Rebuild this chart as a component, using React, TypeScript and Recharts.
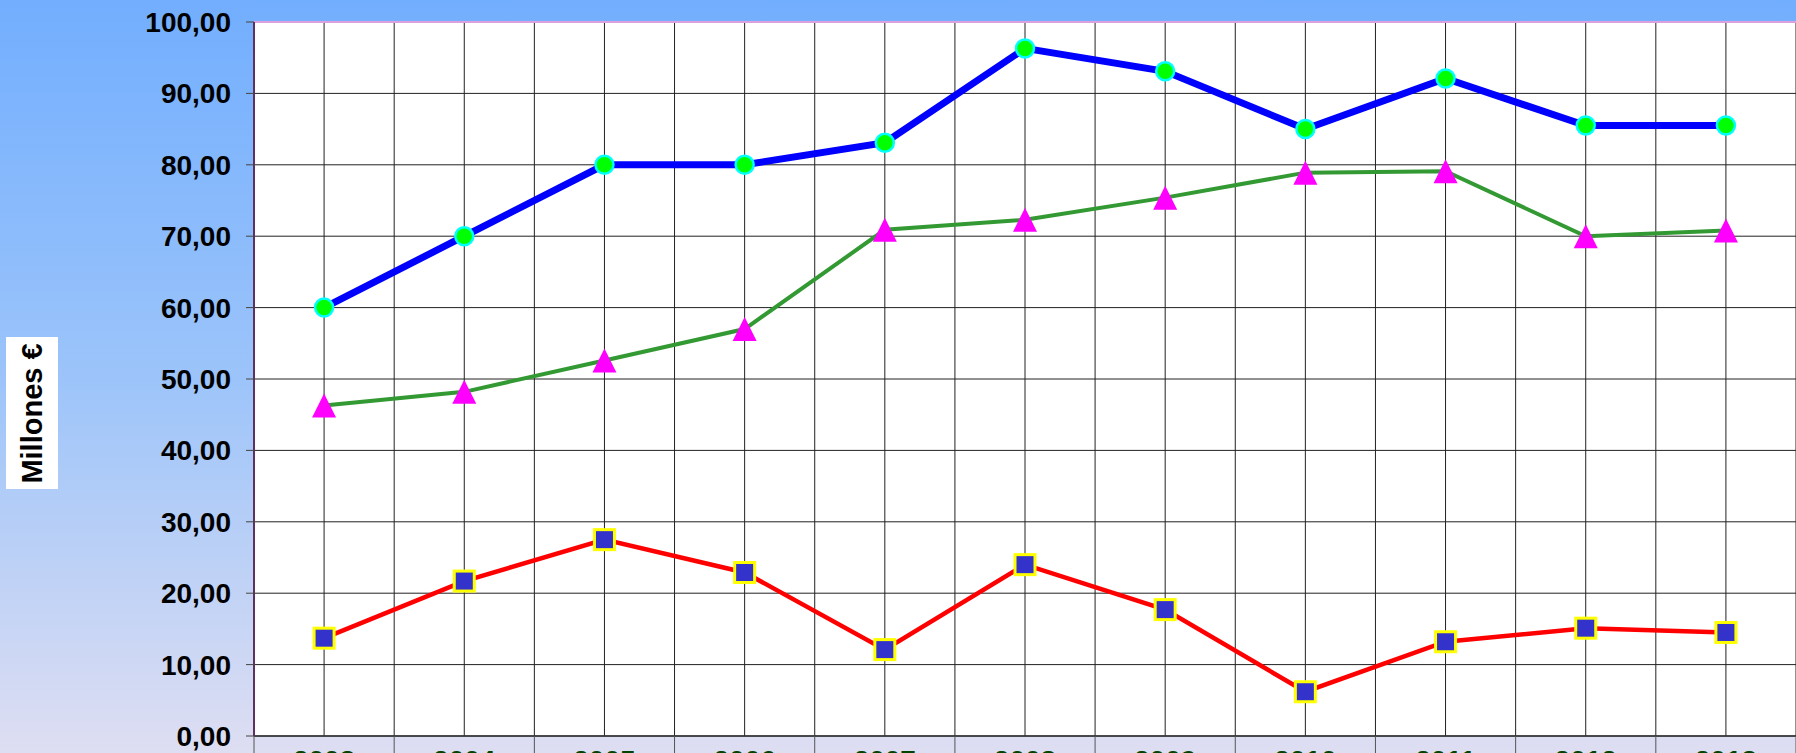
import React from 'react';
import { LineChart, Line, XAxis, YAxis, CartesianGrid, ReferenceLine } from 'recharts';

const categories = ['2003', '2004', '2005', '2006', '2007', '2008', '2009', '2010', '2011', '2012', '2013'];
const blueSeries = [60, 70, 80, 80, 83.1, 96.3, 93.1, 85.0, 92.1, 85.5, 85.5];
const greenSeries = [46.3, 48.2, 52.6, 57.0, 70.9, 72.3, 75.4, 78.9, 79.1, 70.0, 70.8];
const redSeries = [13.7, 21.7, 27.5, 22.9, 12.1, 24.0, 17.7, 6.2, 13.2, 15.1, 14.5];
const yTicks = [0, 10, 20, 30, 40, 50, 60, 70, 80, 90, 100];

const data = categories.map((year, i) => ({
  idx: i,
  year,
  blue: blueSeries[i],
  green: greenSeries[i],
  red: redSeries[i],
}));

// category centres plus the band borders between them
const xTicks = categories.flatMap((_, i) => [i - 0.5, i]).concat([categories.length - 0.5]);

const FONT = '"Liberation Sans", Arial, sans-serif';

const fmt = (v: number) => v.toFixed(2).replace('.', ',');

const XTick = (props: any) => {
  const { x, y, payload } = props;
  const v = payload.value;
  if (Number.isInteger(v)) {
    return (
      <text x={x} y={y + 34} textAnchor="middle" fill="#004400" fontSize={28} fontWeight="bold" fontFamily={FONT}>
        {categories[v]}
      </text>
    );
  }
  return <line x1={x} y1={y} x2={x} y2={y + 64} stroke="#555" strokeWidth={1} />;
};

const CircleDot = (p: any) => (
  <circle key={`c${p.index}`} cx={p.cx} cy={p.cy} r={9} fill="#00ff00" stroke="#00ffff" strokeWidth={2.5} />
);

const TriangleDot = (p: any) => (
  <polygon
    key={`t${p.index}`}
    points={`${p.cx},${p.cy - 12} ${p.cx + 12},${p.cy + 12} ${p.cx - 12},${p.cy + 12}`}
    fill="#ff00ff"
  />
);

const SquareDot = (p: any) => (
  <rect key={`s${p.index}`} x={p.cx - 10} y={p.cy - 10} width={20} height={20} fill="#3333cc" stroke="#ffff00" strokeWidth={3} />
);

export default function App() {
  return (
    <div
      style={{
        position: 'absolute',
        left: 0,
        top: 0,
        width: 1796,
        height: 753,
        overflow: 'hidden',
        background: 'linear-gradient(to bottom, #72aefe 0%, #9cc4fa 50%, #dedef2 100%)',
      }}
    >
      <div
        style={{
          position: 'absolute',
          left: 6,
          top: 337,
          width: 52,
          height: 152,
          background: '#fff',
          display: 'flex',
          alignItems: 'center',
          justifyContent: 'center',
        }}
      >
        <span
          style={{
            transform: 'rotate(-90deg)',
            whiteSpace: 'nowrap',
            fontFamily: FONT,
            fontWeight: 'bold',
            fontSize: 29,
            color: '#000',
          }}
        >
          Millones €
        </span>
      </div>
      <LineChart
        width={1796}
        height={800}
        data={data}
        margin={{ top: 22, right: 0, bottom: 0, left: 0 }}
        style={{ position: 'absolute', left: 0, top: 0 }}
      >
        <CartesianGrid stroke="#222" strokeWidth={1} fill="#fff" fillOpacity={1} />
        <XAxis
          dataKey="idx"
          type="number"
          domain={[-0.5, categories.length - 0.5]}
          ticks={xTicks}
          interval={0}
          height={64}
          tickSize={0}
          tickMargin={0}
          tickLine={false}
          axisLine={{ stroke: '#333', strokeWidth: 1.5 }}
          tick={<XTick />}
        />
        <YAxis
          width={254}
          domain={[0, 100]}
          ticks={yTicks}
          interval={0}
          tickFormatter={fmt}
          tickSize={8}
          tickMargin={15}
          axisLine={{ stroke: '#603060', strokeWidth: 2 }}
          tickLine={{ stroke: '#444' }}
          tick={{ fill: '#000', fontSize: 28, fontWeight: 'bold', fontFamily: FONT }}
        />
        <ReferenceLine y={100} stroke="#dca0dc" strokeWidth={2} />
        <Line dataKey="red" stroke="#ff0000" strokeWidth={4.5} dot={SquareDot} isAnimationActive={false} />
        <Line dataKey="green" stroke="#339933" strokeWidth={4} dot={TriangleDot} isAnimationActive={false} />
        <Line dataKey="blue" stroke="#0000ff" strokeWidth={7} dot={CircleDot} isAnimationActive={false} />
      </LineChart>
    </div>
  );
}
